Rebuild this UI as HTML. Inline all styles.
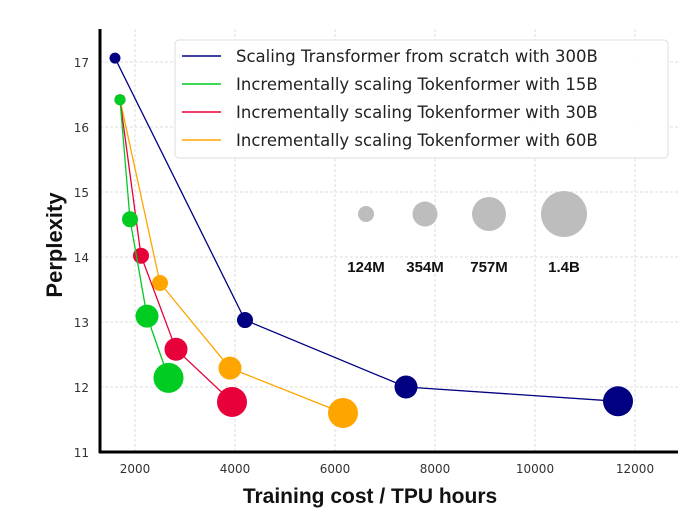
<!DOCTYPE html>
<html><head><meta charset="utf-8"><style>
body{margin:0;background:#fff}
svg{display:block;font-family:"DejaVu Sans","Liberation Sans",sans-serif}
</style></head><body>
<svg id="chart" width="700" height="517" viewBox="0 0 700 517">
<g id="grid"></g>
<g id="axes"></g>
<g id="series"></g>
<g id="sizelegend"></g>
<g id="legend"></g>
<text transform="translate(62,245) rotate(-90)" text-anchor="middle" font-size="22" font-weight="bold" fill="#111" font-family="Liberation Sans, sans-serif">Perplexity</text>
<text x="370" y="503" text-anchor="middle" font-size="21" font-weight="bold" fill="#111" font-family="Liberation Sans, sans-serif">Training cost / TPU hours</text>
</svg>
<script>
const xTicks=[2000,4000,6000,8000,10000,12000];
const yTicks=[11,12,13,14,15,16,17];
const seriesNames=["Scaling Transformer from scratch with 300B","Incrementally scaling Tokenformer with 15B","Incrementally scaling Tokenformer with 30B","Incrementally scaling Tokenformer with 60B"];
const seriesColors=["#000080","#00cc22","#e8003a","#ffa500"];
const transformerX=[1600,4200,7420,11660];
const transformerY=[17.06,13.03,12.0,11.78];
const tok15X=[1700,1900,2240,2670];
const tok15Y=[16.42,14.58,13.09,12.14];
const tok30X=[1700,2120,2820,3940];
const tok30Y=[16.42,14.02,12.58,11.77];
const tok60X=[1700,2500,3900,6160];
const tok60Y=[16.42,13.6,12.29,11.6];
const modelSizes=["124M","354M","757M","1.4B"];
const ns="http://www.w3.org/2000/svg";
const X=v=>135+(v-2000)*0.05;
const Y=v=>452-(v-11)*65;
const radii=[5.5,8,11.5,15];
const legendRadii=[8,12.5,17,23];
function mk(tag,attrs,parent){const e=document.createElementNS(ns,tag);for(const k in attrs)e.setAttribute(k,attrs[k]);parent.appendChild(e);return e;}
const grid=document.getElementById('grid');
xTicks.forEach(t=>{const l=mk('line',{x1:X(t),x2:X(t),y1:29,y2:452,stroke:'#ddd','stroke-dasharray':'3,2','stroke-width':1},grid);

});
yTicks.forEach(t=>{const l=mk('line',{x1:100,x2:678,y1:Y(t),y2:Y(t),stroke:'#ddd','stroke-dasharray':'3,2','stroke-width':1},grid);

});
const axes=document.getElementById('axes');
const ya=mk('line',{x1:100,x2:100,y1:29,y2:453,stroke:'#000','stroke-width':3},axes);


const xa=mk('line',{x1:99,x2:678,y1:452,y2:452,stroke:'#000','stroke-width':3},axes);


xTicks.forEach(t=>{const e=mk('text',{x:X(t),y:473,'text-anchor':'middle','font-size':12,fill:'#333'},axes);e.textContent=t;

});
yTicks.forEach(t=>{const e=mk('text',{x:89,y:Y(t)+5,'text-anchor':'end','font-size':12,fill:'#333'},axes);e.textContent=t;

});
const sg=document.getElementById('series');
const allX=[transformerX,tok15X,tok30X,tok60X],allY=[transformerY,tok15Y,tok30Y,tok60Y];
[0,3,2,1].forEach(i=>{const g=mk('g',{},sg);


const pts=allX[i].map((x,j)=>X(x)+','+Y(allY[i][j])).join(' ');
const pl=mk('polyline',{points:pts,fill:'none',stroke:seriesColors[i],'stroke-width':1.3},g);


allX[i].forEach((x,j)=>{const c=mk('circle',{cx:X(x),cy:Y(allY[i][j]),r:radii[j],fill:seriesColors[i]},g);

});});
const sl=document.getElementById('sizelegend');
const slX=[366,425,489,564];
modelSizes.forEach((s,i)=>{const c=mk('circle',{cx:slX[i],cy:214,r:legendRadii[i],fill:'#bdbdbd'},sl);


const t=mk('text',{x:slX[i],y:272,'text-anchor':'middle','font-size':15,'font-weight':'bold',fill:'#111','font-family':'Liberation Sans, sans-serif'},sl);t.textContent=s;

});
const lg=document.getElementById('legend');
const box=mk('rect',{x:175,y:40,width:493,height:118,rx:4,fill:'#fff','fill-opacity':0.9,stroke:'#ddd'},lg);


const rowY=[56,84,112,140];
seriesNames.forEach((n,i)=>{const g=mk('g',{},lg);


mk('line',{x1:182,x2:221,y1:rowY[i],y2:rowY[i],stroke:seriesColors[i],'stroke-width':1.5},g);
const t=mk('text',{x:236,y:rowY[i]+6,'font-size':16.5,fill:'#222'},g);t.textContent=n;

});
</script>
</body></html>
